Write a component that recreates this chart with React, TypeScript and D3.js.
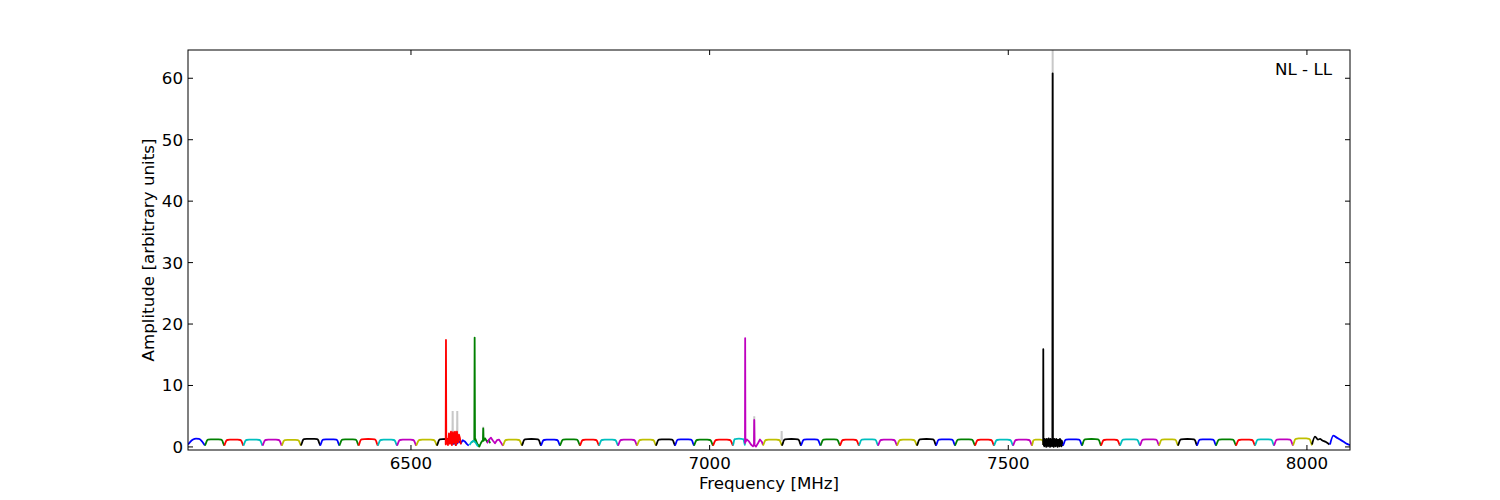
import React from "react";
import * as d3 from "d3";

// ---------- data ----------
const cycleColors = ["#0000ff", "#008000", "#ff0000", "#00bfbf", "#bf00bf", "#bfbf00", "#000000"];
const flaggedColor = "#c8c8c8";

// regular sub-bands: start / end frequency (MHz) and plateau level
const subbandStart = [
  6126.7, 6155.1, 6187.3, 6219.4, 6251.5, 6283.7, 6315.8, 6348.0, 6380.1, 6412.3, 6444.4, 6476.6, 6508.7, 6543.5,
  6570.0, 6602.0, 6556.9, 6598.0, 6627.0, 6654.0, 6685.8, 6717.6, 6749.5, 6782.9, 6814.7, 6846.6, 6878.4, 6910.2,
  6942.0, 6973.8, 7005.6, 7039.1, 7058.9, 7089.3, 7121.1, 7152.9, 7185.6, 7218.2, 7250.0, 7281.9, 7313.7, 7347.1,
  7379.0, 7410.8, 7444.2, 7476.1, 7507.9, 7539.7, 7558.1, 7591.6, 7623.4, 7655.2, 7687.0, 7720.5, 7752.3, 7784.1,
  7815.9, 7847.7, 7881.2, 7913.0, 7944.8, 7976.6, 8008.5, 8038.6,
];
const subbandEnd = [
  6155.1, 6187.3, 6219.4, 6251.5, 6283.7, 6315.8, 6348.0, 6380.1, 6412.3, 6444.4, 6476.6, 6508.7, 6543.5, 6575.3,
  6596.7, 6632.3, 6583.7, 6612.0, 6654.0, 6685.8, 6717.6, 6749.5, 6782.9, 6814.7, 6846.6, 6878.4, 6910.2, 6942.0,
  6973.8, 7005.6, 7039.1, 7059.2, 7089.3, 7121.1, 7152.9, 7185.6, 7218.2, 7250.0, 7281.9, 7313.7, 7347.1, 7379.0,
  7410.8, 7444.2, 7476.1, 7507.9, 7539.7, 7559.8, 7591.6, 7623.4, 7655.2, 7687.0, 7720.5, 7752.3, 7784.1, 7815.9,
  7847.7, 7881.2, 7913.0, 7944.8, 7976.6, 8008.5, 8038.6, 8072.1,
];
const subbandLevel = [
  1.3, 1.2, 1.15, 1.15, 1.15, 1.12, 1.28, 1.2, 1.2, 1.25, 1.15, 1.15, 1.15, 1.25,
  0, 0, 0, 0, 0, 1.15, 1.25, 1.15, 1.2, 1.15, 1.15, 1.15, 1.15, 1.2,
  1.2, 1.15, 1.15, 1.3, 0, 1.15, 1.25, 1.2, 1.2, 1.15, 1.2, 1.15, 1.15, 1.25,
  1.2, 1.2, 1.15, 1.15, 1.15, 1.15, 0, 1.2, 1.25, 1.15, 1.2, 1.2, 1.2, 1.25,
  1.2, 1.2, 1.15, 1.2, 1.2, 1.35, 0, 0,
];

// normalised bandpass shape (fraction of band width, fraction of plateau)
const bandShapeT = [0, 0.05, 0.1, 0.16, 0.3, 0.5, 0.7, 0.84, 0.9, 0.95, 1];
const bandShapeV = [0.18, 0.5, 0.85, 0.98, 1.02, 1.03, 1.02, 0.98, 0.85, 0.5, 0.18];

// irregular traces (explicit samples)
const trace0Freq = [6126.7, 6130.1, 6135.1, 6140.1, 6145.1, 6150.1, 6153.5, 6155.1];
const trace0Amp = [0.4, 0.8, 1.2, 1.35, 1.3, 0.9, 0.45, 0.25];

const trace14Freq = [6570.0, 6573.3, 6576.7, 6580.0, 6583.4, 6586.7, 6590.1, 6593.4, 6596.7];
const trace14Amp = [0.4, 0.9, 0.5, 1.0, 0.6, 1.1, 0.9, 0.5, 0.2];

const trace15Freq = [6602.0, 6606.0, 6606.6, 6607.2, 6607.8, 6611.0, 6614.4, 6616.9, 6619.4, 6620.5, 6621.0, 6621.5, 6623.9, 6627.2, 6630.6, 6632.3];
const trace15Amp = [0.8, 1.0, 17.8, 1.0, 1.3, 0.5, 0.05, 0.6, 1.0, 1.0, 3.0, 1.0, 1.4, 0.9, 1.1, 0.6];

const trace16Freq = [6556.9, 6558.1, 6558.6, 6559.1, 6560.3, 6561.9, 6563.6, 6565.3, 6567.0, 6568.6, 6570.3, 6572.0, 6573.7, 6575.3, 6577.0, 6578.7, 6580.4, 6582.0, 6583.7];
const trace16Amp = [0.4, 0.4, 17.4, 0.5, 1.3, 0.3, 2.2, 0.5, 2.5, 0.3, 2.4, 0.6, 2.5, 0.3, 2.5, 0.7, 2.0, 1.4, 0.4];

const trace17Freq = [6598.0, 6601.4, 6604.7, 6608.1, 6611.4, 6612.0];
const trace17Amp = [0.3, 0.8, 1.0, 0.7, 0.2, 0.3];

const trace18Freq = [6627.2, 6630.6, 6633.9, 6637.3, 6640.6, 6644.0, 6647.3, 6650.7, 6654.0];
const trace18Amp = [0.6, 1.2, 1.5, 1.0, 0.6, 1.1, 1.2, 0.7, 0.2];

const trace32Freq = [7058.9, 7059.2, 7059.5, 7059.9, 7062.5, 7065.9, 7069.2, 7072.6, 7074.2, 7074.7, 7075.2, 7077.6, 7080.9, 7084.3, 7087.6, 7089.3];
const trace32Amp = [0.6, 0.6, 17.7, 0.8, 1.2, 0.9, 0.4, 0.1, 0.3, 4.4, 0.3, 0.05, 0.6, 1.2, 0.8, 0.3];

const trace48Freq = [
  7558.1, 7558.4, 7558.6, 7558.9, 7559.6, 7560.4, 7561.2, 7562.0, 7562.8, 7563.6, 7564.4, 7565.2, 7566.0,
  7566.8, 7567.6, 7568.4, 7569.2, 7570.0, 7570.8, 7571.6, 7572.4, 7573.2, 7573.9, 7574.3, 7574.7, 7575.4,
  7576.2, 7577.0, 7577.8, 7578.6, 7579.4, 7580.2, 7581.0, 7581.8, 7582.6, 7583.4, 7584.2, 7585.0, 7585.8,
  7586.6, 7587.4, 7588.2, 7589.0, 7589.8, 7590.6, 7591.6,
];
const trace48Amp = [
  0.3, 0.3, 15.9, 0.5, 1.2, 0.1, 1.3, 0.2, 1.1, 0.0, 1.3, 0.3, 1.2, 0.1, 1.4, 0.2, 1.2, 0.0, 1.3, 0.2, 1.1,
  0.1, 0.6, 60.8, 0.5, 1.2, 0.0, 1.3, 0.2, 1.1, 0.1, 1.3, 0.3, 1.2, 0.0, 1.1, 0.3, 1.2, 0.1, 1.3, 0.2, 1.1,
  0.1, 1.0, 0.3, 0.4,
];

const trace62Freq = [8008.5, 8013.5, 8018.5, 8021.9, 8025.2, 8031.9, 8037.8];
const trace62Amp = [0.4, 1.68, 1.2, 1.3, 1.1, 0.8, 0.4];

const trace63Freq = [8038.6, 8044.2, 8048.7, 8055.4, 8062.1, 8067.1, 8072.1];
const trace63Amp = [0.4, 1.84, 1.6, 1.2, 0.8, 0.5, 0.3];

const irregular: Record<number, [number[], number[]]> = {
  0: [trace0Freq, trace0Amp],
  14: [trace14Freq, trace14Amp],
  15: [trace15Freq, trace15Amp],
  16: [trace16Freq, trace16Amp],
  17: [trace17Freq, trace17Amp],
  18: [trace18Freq, trace18Amp],
  32: [trace32Freq, trace32Amp],
  48: [trace48Freq, trace48Amp],
  62: [trace62Freq, trace62Amp],
  63: [trace63Freq, trace63Amp],
};

// flagged (grey) channels
const flaggedFreq = [6569.8, 6577.5, 6621.0, 7074.7, 7120.6, 7574.3];
const flaggedBase = [1.0, 1.0, 1.0, 1.0, 1.0, 1.0];
const flaggedPeak = [5.85, 5.85, 3.3, 5.0, 2.6, 64.6];

const xTicks = [6500, 7000, 7500, 8000];
const yTicks = [0, 10, 20, 30, 40, 50, 60];
const xDomain = [6126.7, 8072.1];
const yDomain = [-0.5, 64.6];

// ---------- chart ----------
const W = 1500, H = 500;
const L = 188, R = 1350, T = 50, B = 450;
const FONT = "DejaVu Sans, sans-serif";
const FS = 16.7;

export default function App() {
  const x = d3.scaleLinear().domain(xDomain).range([L, R]);
  const y = d3.scaleLinear().domain(yDomain).range([B, T]);

  const linearLine = d3.line<[number, number]>().x(d => x(d[0])).y(d => y(d[1]));
  const smoothLine = d3.line<[number, number]>().x(d => x(d[0])).y(d => y(d[1])).curve(d3.curveMonotoneX);

  const traces = subbandStart.map((s, k) => {
    const color = cycleColors[k % 7];
    if (irregular[k]) {
      const [fs, as] = irregular[k];
      const pts = fs.map((f, i) => [f, as[i]] as [number, number]);
      return { color, d: (k === 0 || k === 62 || k === 63 ? smoothLine : linearLine)(pts) };
    }
    const e = subbandEnd[k];
    const lvl = subbandLevel[k];
    const pts = bandShapeT.map((t, i) => [s + t * (e - s), bandShapeV[i] * lvl] as [number, number]);
    return { color, d: smoothLine(pts) };
  });

  const tickLen = 5;

  return (
    <svg width={W} height={H} style={{ position: "absolute", left: 0, top: 0, background: "#fff" }} fontFamily={FONT}>
      <rect x={0} y={0} width={W} height={H} fill="#fff" />
      <defs>
        <clipPath id="plot">
          <rect x={L} y={T} width={R - L} height={B - T} />
        </clipPath>
      </defs>
      <g clipPath="url(#plot)">
        {flaggedFreq.map((f, i) => (
          <path
            key={"g" + i}
            d={linearLine([[f - 0.3, flaggedBase[i]], [f, flaggedPeak[i]], [f + 0.3, flaggedBase[i]]]) || ""}
            stroke={flaggedColor}
            strokeWidth={2}
            fill="none"
          />
        ))}
        {traces.map((t, i) => (
          <path key={i} d={t.d || ""} stroke={t.color} strokeWidth={1.8} fill="none" strokeLinejoin="round" />
        ))}
      </g>
      <rect x={L} y={T} width={R - L} height={B - T} fill="none" stroke="#000" strokeWidth={1} />
      {xTicks.map(v => (
        <g key={"x" + v}>
          <line x1={x(v)} x2={x(v)} y1={B} y2={B - tickLen} stroke="#000" />
          <line x1={x(v)} x2={x(v)} y1={T} y2={T + tickLen} stroke="#000" />
          <text x={x(v)} y={B + 19} fontSize={FS} textAnchor="middle">{v}</text>
        </g>
      ))}
      {yTicks.map(v => (
        <g key={"y" + v}>
          <line x1={L} x2={L + tickLen} y1={y(v)} y2={y(v)} stroke="#000" />
          <line x1={R} x2={R - tickLen} y1={y(v)} y2={y(v)} stroke="#000" />
          <text x={L - 5} y={y(v)} dy="0.36em" fontSize={FS} textAnchor="end">{v}</text>
        </g>
      ))}
      <text x={(L + R) / 2} y={489} fontSize={FS} textAnchor="middle">Frequency [MHz]</text>
      <text transform={`translate(154,${(T + B) / 2}) rotate(-90)`} fontSize={FS} textAnchor="middle">
        Amplitude [arbitrary units]
      </text>
      <text x={1332} y={75} fontSize={FS} textAnchor="end">NL - LL</text>
    </svg>
  );
}
